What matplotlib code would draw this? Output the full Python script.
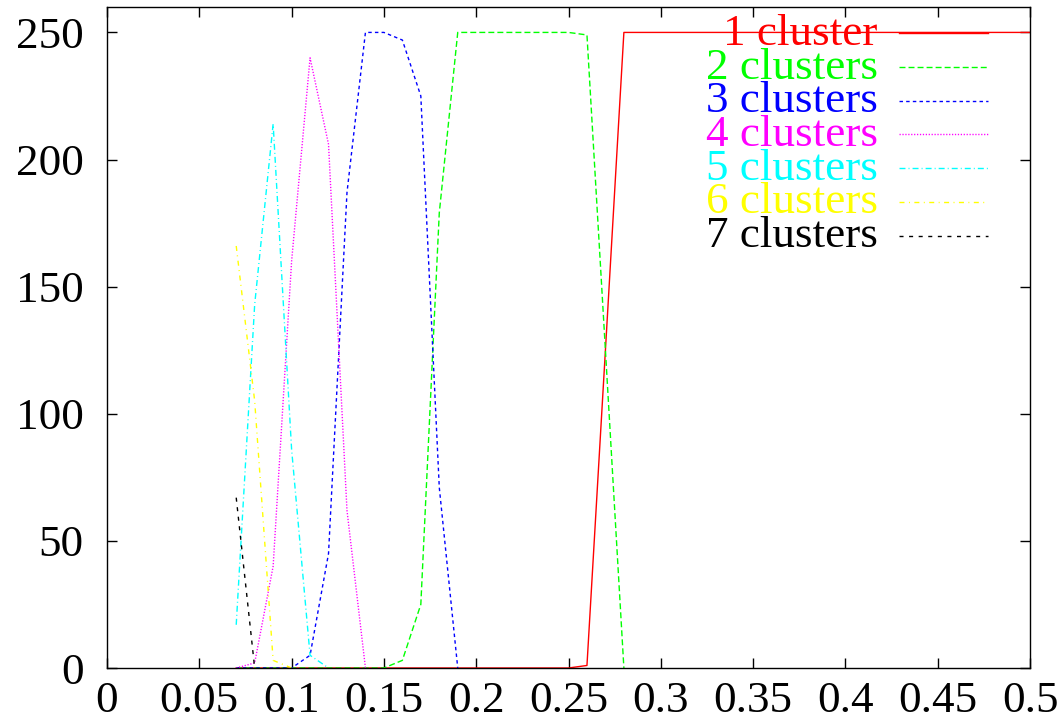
import matplotlib
matplotlib.use("Agg")
import matplotlib.pyplot as plt

plt.rcParams['font.family'] = ['Liberation Serif', 'DejaVu Serif']

# thresholds (x) and number of runs giving each cluster count
x_all = [0.07, 0.08, 0.09, 0.10, 0.11, 0.12, 0.13, 0.14, 0.15, 0.16,
         0.17, 0.18, 0.19, 0.20, 0.21, 0.22, 0.23, 0.24, 0.25, 0.26,
         0.27, 0.28, 0.29, 0.30, 0.31, 0.32, 0.33, 0.34, 0.35, 0.36,
         0.37, 0.38, 0.39, 0.40, 0.41, 0.42, 0.43, 0.44, 0.45, 0.46,
         0.47, 0.48, 0.49, 0.50]

one = [0, 0, 0, 0, 0, 0, 0, 0, 0, 0,
       0, 0, 0, 0, 0, 0, 0, 0, 0, 1,
       125, 250, 250, 250, 250, 250, 250, 250, 250, 250,
       250, 250, 250, 250, 250, 250, 250, 250, 250, 250,
       250, 250, 250, 250]
two = [0, 0, 0, 0, 0, 0, 0, 0, 0, 3, 25, 179, 250, 250, 250, 250, 250,
       250, 250, 249, 125, 0]
three = [0, 0, 0, 0, 5, 45, 187, 250, 250, 247, 225, 71, 0]
four = [0, 2, 40, 160, 240, 206, 62, 0]
five = [17, 143, 214, 86, 5, 0]
six = [166, 105, 3, 0]
seven = [67, 0]

labels = ["1 cluster", "2 clusters", "3 clusters", "4 clusters",
          "5 clusters", "6 clusters", "7 clusters"]
series = [one, two, three, four, five, six, seven]
colors = ["#ff0000", "#00ff00", "#0000ff", "#ff00ff", "#00ffff",
          "#ffff00", "#000000"]
dashes = [None, (4.3, 2.2), (2.5, 2.3), (0.9, 1.2), (4.3, 2.2, 0.7, 2.2),
          (3.6, 3.2, 0.7, 3.2), (2.9, 4.0)]

W, H = 1063, 722
fig = plt.figure(figsize=(W / 100, H / 100), dpi=100)
ax = fig.add_axes([107 / W, (H - 668) / H, 923 / W, 661 / H])

for i, (vals, col, dsh) in enumerate(zip(series, colors, dashes)):
    line, = ax.plot(x_all[:len(vals)], vals, color=col, lw=1.0)
    if dsh is not None:
        line.set_dashes(dsh)

# gnuplot-like key: right-aligned coloured text followed by a line sample
for i, (lab, col, dsh) in enumerate(zip(labels, colors, dashes)):
    y_line = 1 - (33.3 - 7 + 33.7 * i) / 661
    y_base = 1 - (45 - 7 + 33.7 * i) / 661
    ax.text(0.835, y_base, lab, transform=ax.transAxes, ha='right',
            va='baseline', color=col, fontsize=32.5)
    sample, = ax.plot([0.858, 0.9545], [y_line, y_line], transform=ax.transAxes,
                      color=col, lw=1.0)
    if dsh is not None:
        sample.set_dashes(dsh)

ax.set_xlim(0, 0.5)
ax.set_ylim(0, 260)
ax.set_xticks([0, 0.05, 0.1, 0.15, 0.2, 0.25, 0.3, 0.35, 0.4, 0.45, 0.5])
ax.set_xticklabels(["0", "0.05", "0.1", "0.15", "0.2", "0.25", "0.3",
                    "0.35", "0.4", "0.45", "0.5"])
ax.set_yticks([0, 50, 100, 150, 200, 250])
ax.tick_params(direction='in', length=7, width=1.0, top=True, right=True,
               labelsize=32.5)
ax.tick_params(axis='x', pad=9)
ax.tick_params(axis='y', pad=17)
for s in ax.spines.values():
    s.set_linewidth(1.0)

fig.savefig("out.png", dpi=100)
